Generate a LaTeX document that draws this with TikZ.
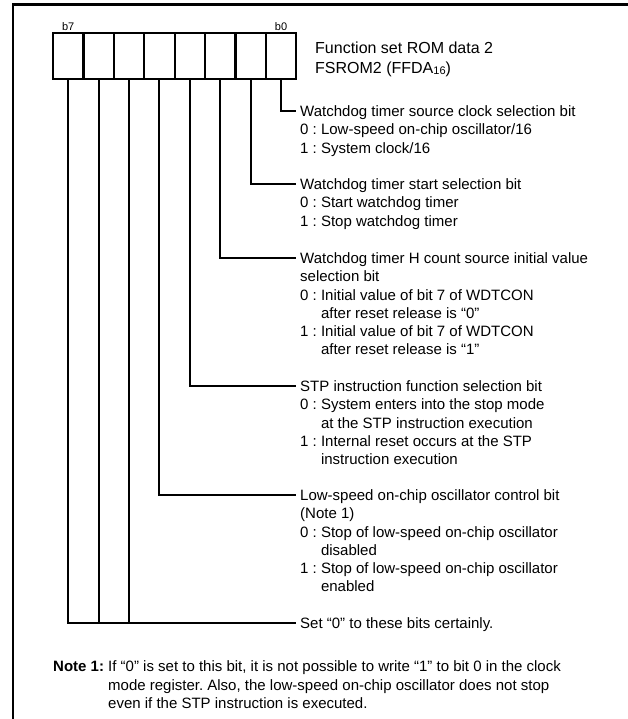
\documentclass[tikz,border=0pt]{standalone}
\usepackage{fontspec}
\setmainfont{Liberation Sans}
\usetikzlibrary{positioning}
\newcommand{\contind}{\hphantom{0 : }}
\frenchspacing

\begin{document}
\begin{tikzpicture}[x=1pt, y=-1pt,
    frame/.style={line width=2.8pt},
    cellbox/.style={draw, line width=2.2pt, minimum width=30.4pt,
                    minimum height=46pt, inner sep=0pt},
    bitlbl/.style={font=\fontsize{11}{13}\selectfont, inner sep=0pt, anchor=base},
    bitline/.style={line width=2pt},
    desc/.style={anchor=north west, align=left, inner sep=0pt,
                 font=\fontsize{15}{18.2}\selectfont},
    titletext/.style={anchor=north west, align=left, inner sep=0pt,
                      font=\fontsize{16}{20}\selectfont}
]
\useasboundingbox (0,0) rectangle (628,719);

%% Frame
\draw[frame] (13,719) -- (13,4.5) -- (628,4.5);

%% Register cells b7 ... b0
\foreach \i in {0,...,7}
    \node[cellbox] (b\i) at ({281-30.4*\i}, 56) {};
\node[bitlbl] (l7) at ([yshift=1.5pt]b7.north) {b7};
\node[bitlbl] (l0) at ([yshift=1.5pt]b0.north) {b0};

\node[titletext] (ttl) at (315, 39.5) {\strut Function set ROM data 2\\FSROM2 (FFDA{\fontsize{11}{13}\selectfont\raisebox{-1pt}{16}})};

%% Line ends at the texts
\coordinate (t0) at (296, 111);
\coordinate (t1) at (296, 184);
\coordinate (t2) at (296, 258);
\coordinate (t3) at (296, 386);
\coordinate (t4) at (296, 495);
\coordinate (t5) at (296, 623);

%% Bit lines
\foreach \i in {0,...,4}
    \draw[bitline] (b\i.south) |- (t\i);
\draw[bitline] (b7.south) |- (t5);
\draw[bitline] (b6.south) -- (b6.south |- t5);
\draw[bitline] (b5.south) -- (b5.south |- t5);

%% Descriptions
\node[desc] (d0) at ([xshift=4pt, yshift=7.3pt]t0) {\strut Watchdog timer source clock selection bit\\
    0 : Low-speed on-chip oscillator/16\\
    1 : System clock/16};
\node[desc] (d1) at ([xshift=4pt, yshift=7.3pt]t1) {\strut Watchdog timer start selection bit\\
    0 : Start watchdog timer\\
    1 : Stop watchdog timer};
\node[desc] (d2) at ([xshift=4pt, yshift=7.3pt]t2) {\strut Watchdog timer H count source initial value\\
    selection bit\\
    0 : Initial value of bit 7 of WDTCON\\
    \contind after reset release is ``0''\\
    1 : Initial value of bit 7 of WDTCON\\
    \contind after reset release is ``1''};
\node[desc] (d3) at ([xshift=4pt, yshift=7.3pt]t3) {\strut STP instruction function selection bit\\
    0 : System enters into the stop mode\\
    \contind at the STP instruction execution\\
    1 : Internal reset occurs at the STP\\
    \contind instruction execution};
\node[desc] (d4) at ([xshift=4pt, yshift=7.3pt]t4) {\strut Low-speed on-chip oscillator control bit\\
    (Note 1)\\
    0 : Stop of low-speed on-chip oscillator\\
    \contind disabled\\
    1 : Stop of low-speed on-chip oscillator\\
    \contind enabled};
\node[desc] (d5) at ([xshift=4pt, yshift=7.3pt]t5) {\strut Set ``0'' to these bits certainly.};

%% Note
\node[desc] (note) at (53, 659) {\strut\textbf{Note 1:} If ``0'' is set to this bit, it is not possible to write ``1'' to bit 0 in the clock\\
    \hphantom{\textbf{Note 1:} }mode register. Also, the low-speed on-chip oscillator does not stop\\
    \hphantom{\textbf{Note 1:} }even if the STP instruction is executed.};

\end{tikzpicture}
\end{document}
